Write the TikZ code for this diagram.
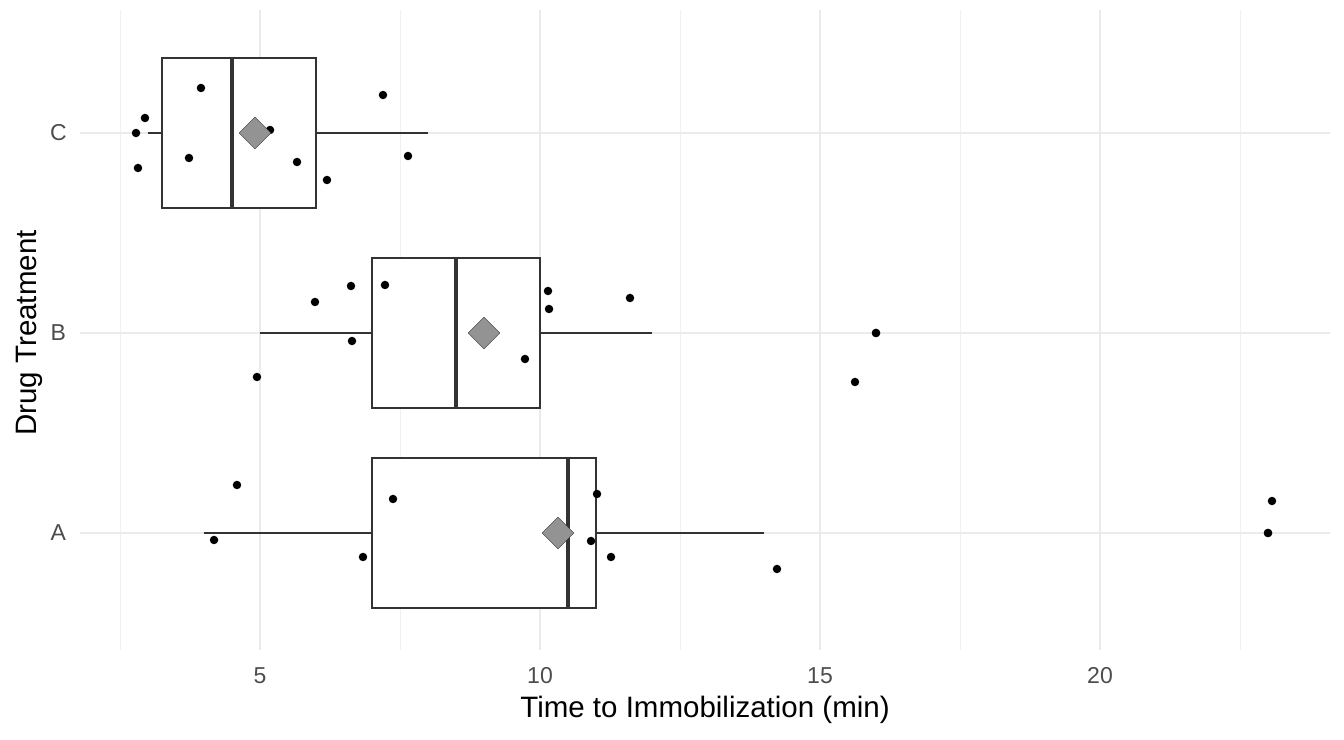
\documentclass[tikz,border=0pt]{standalone}
\usepackage{fontspec}
\setmainfont{Liberation Sans}
\tikzstyle{pt}=[circle,fill=black,inner sep=0pt,minimum size=8.5pt]
\tikzstyle{mean}=[diamond,draw=black!80,fill=gray!85,inner sep=0pt,minimum size=32pt]
\tikzstyle{tick}=[text=black!70,font=\fontsize{23}{26}\selectfont]
\tikzstyle{grid}=[draw=black!8,line width=1.3pt]
\tikzstyle{minorgrid}=[draw=black!6,line width=0.7pt]
\usetikzlibrary{shapes.geometric}
% lower whisker, box left, median, box right, upper whisker, row
\newcommand{\boxrow}[6]{
	\draw[line width=1.2pt,black!80] (#1,#6)--(#2,#6) (#4,#6)--(#5,#6);
	\draw[line width=1.2pt,black!80,fill=white] (#2,#6-0.375) rectangle (#4,#6+0.375);
	\draw[line width=3.5pt,black!80] (#3,#6-0.375)--(#3,#6+0.375);
}
\begin{document}
\begin{tikzpicture}[x=1pt,y=1pt]
	\useasboundingbox (0,0) rectangle (1344,739);
	\begin{scope}[x=56pt,y=200pt,shift={(-20pt,6pt)}]
		\foreach \x in {2.5,7.5,12.5,17.5,22.5}
			\draw[minorgrid] (\x,0.415)--(\x,3.615);
		\foreach \x in {5,10,...,20}{
			\draw[grid] (\x,0.415)--(\x,3.615);
			\node[tick] (t\x) at (\x,0.285) {\x};
		}
		\foreach \y/\l in {1/A,2/B,3/C}{
			\draw[grid] (1.786,\y)--(24.107,\y);
			\node[tick] (l\l) at (1.4,\y) {\l};
		}
		
		\boxrow{3}{3.25}{4.5}{6}{8}{3}
		\boxrow{5}{7}{8.5}{10}{12}{2}
		\boxrow{4}{7}{10.5}{11}{14}{1}
		
		\node[pt,fill=black!75] (ob) at (16,2) {};
		\node[pt,fill=black!75] (oa) at (23,1) {};
		
		\foreach \x/\y in {2.946/3.075,3.946/3.225,2.786/3.0,2.821/2.825,3.732/2.875,
			5.179/3.015,5.661/2.855,6.196/2.765,7.196/3.19,7.643/2.885,
			5.982/2.155,6.625/2.235,7.232/2.24,6.643/1.96,4.946/1.78,10.143/2.21,
			10.161/2.12,9.732/1.87,11.607/2.175,16/2.0,15.625/1.755,
			4.589/1.24,4.179/0.965,6.839/0.88,7.375/1.17,11.018/1.195,
			10.911/0.96,11.268/0.88,14.232/0.82,23.071/1.16,23.0/1.0}
			\node[pt] at (\x,\y) {};
		
		\node[mean] (mc) at (4.911,3) {};
		\node[mean] (mb) at (9.0,2) {};
		\node[mean] (ma) at (10.321,1) {};
	\end{scope}
	\node[font=\fontsize{29.5}{32}\selectfont] (xt) at (705,29) {Time to Immobilization (min)};
	\node[font=\fontsize{29.5}{32}\selectfont,rotate=90] (yt) at (29,406) {Drug Treatment};
\end{tikzpicture}
\end{document}
